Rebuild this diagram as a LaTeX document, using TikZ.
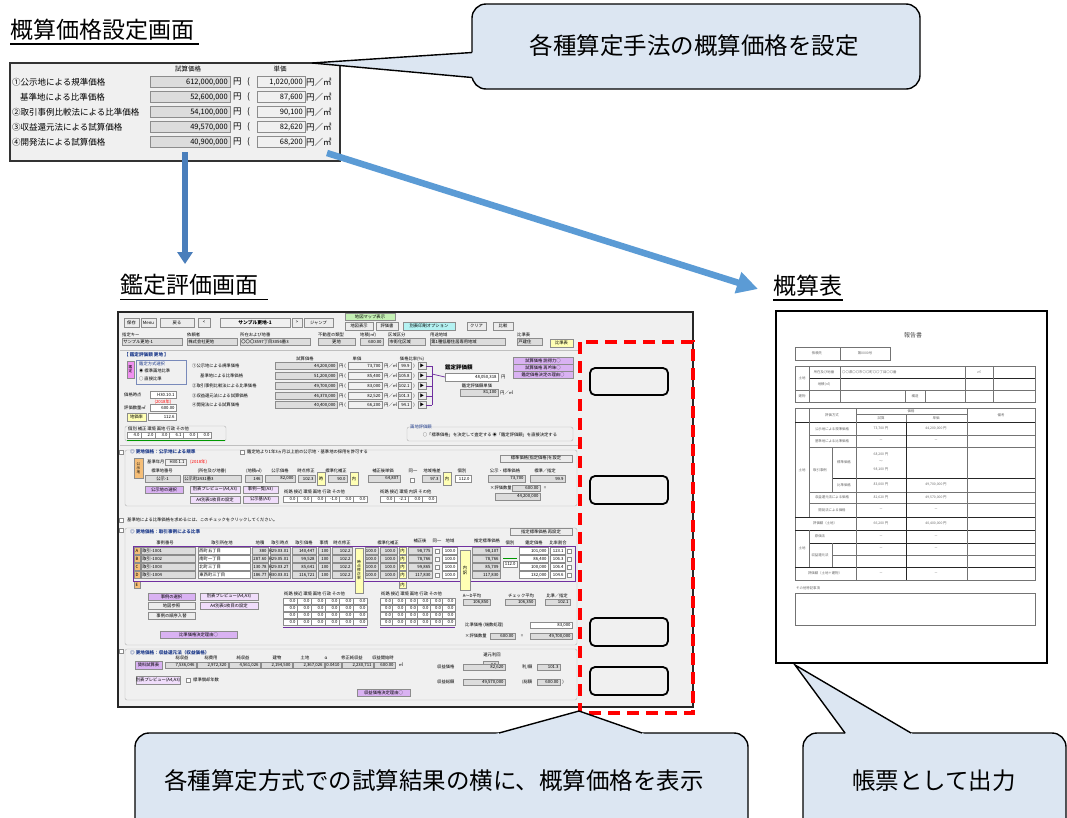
\documentclass[tikz,border=0pt]{standalone}
\usepackage{fontspec}
\setmainfont{Noto Sans CJK JP}
\usetikzlibrary{arrows.meta}
\definecolor{cbl}{HTML}{DCE6F2}
\definecolor{ardark}{HTML}{4A7EBB}
\definecolor{arlight}{HTML}{5B9BD5}
\definecolor{scr}{HTML}{F0F0F0}
\definecolor{fgr}{HTML}{DCDCDC}
\definecolor{fbd}{HTML}{8C8C8C}
\definecolor{btn}{HTML}{ECECEC}
\definecolor{pur}{HTML}{D9B2F2}
\definecolor{lpur}{HTML}{F0DDFB}
\definecolor{cyn}{HTML}{B4F2F2}
\definecolor{grn}{HTML}{C4F0B4}
\definecolor{yel}{HTML}{FFFFB4}
\definecolor{org}{HTML}{F5BE78}
\definecolor{pnk}{HTML}{F090F0}
\definecolor{brk}{HTML}{7030A0}
\definecolor{navy}{HTML}{1F3C8C}
\newcounter{tn}
\newcommand\tx[3][]{\stepcounter{tn}\node[tinyt,#1,name=tx\arabic{tn}] at (#2) {#3};}
\newcommand\fd[5][fgr]{\draw[fill=#1,draw=fbd,line width=0.35pt] ({#2},{#3}) rectangle ({#4},{#5});}
\newcommand\bt[6][btn]{\draw[fill=#1,draw=fbd,line width=0.35pt] ({#2},{#3}) rectangle ({#4},{#5});\tx{{(#2+#4)/2},{(#3+#5)/2}}{#6}}
\newcommand\nf[6][fgr]{\draw[fill=#1,draw=fbd,line width=0.35pt] ({#2},{#3}) rectangle ({#4},{#5});\tx[anchor=east]{{#4-1.2},{(#3+#5)/2}}{#6}}
\newcommand\lf[6][fgr]{\draw[fill=#1,draw=fbd,line width=0.35pt] ({#2},{#3}) rectangle ({#4},{#5});\tx[anchor=west]{{#2+1.2},{(#3+#5)/2}}{#6}}
\begin{document}
\begin{tikzpicture}[x=1pt,y=-1pt,
  tinyt/.style={font=\fontsize{4.3}{5}\selectfont,inner sep=0pt},
  rtxt/.style={font=\fontsize{3.4}{4}\selectfont,inner sep=0pt,text=black!60},
  ttl/.style={font=\fontsize{23}{23}\selectfont,inner sep=0pt,anchor=base west},
  uline/.style={line width=1.5pt},
  callout/.style={fill=cbl,draw=black,line width=1.4pt,rounded corners=14pt},
  ptr/.style={draw=black,line width=1.4pt,line join=miter},
  ctext/.style={font=\fontsize{23.5}{24}\selectfont,inner sep=0pt},
  plab/.style={font=\fontsize{8.5}{9}\selectfont,inner sep=0pt,anchor=west},
  pnum/.style={font=\fontsize{7.5}{8}\selectfont,inner sep=0pt,anchor=east},
  pfield/.style={fill=fgr,draw=fbd,line width=0.5pt},
  pfield2/.style={fill=scr,draw=fbd,line width=0.5pt},
  frm/.style={draw=black!30,line width=0.4pt,rounded corners=2pt},
  rl/.style={draw=black!55,line width=0.45pt},
  rk/.style={draw=black!85,line width=0.8pt},
  bluearrow/.style={line width=6pt,color=ardark,-{Triangle[length=12pt,width=15pt]}},
  diagarrow/.style={line width=6.5pt,color=arlight,-{Triangle[length=21pt,width=21pt]}},
  reddash/.style={draw=red,line width=3.6pt,dash pattern=on 12pt off 7pt},
  slot/.style={draw=black,line width=1.8pt,rounded corners=5pt}
]
\clip (0,0) rectangle (1067,817);
\useasboundingbox (0,0) rectangle (1067,817);
\fill[white] (0,0) rectangle (1067,817);

% ---------- titles ----------
\node[ttl,name=title1] at (10,38) {概算価格設定画面};
\draw[uline] (10,44) -- (199,44);
\node[ttl,name=title2] at (120,293) {鑑定評価画面};
\draw[uline] (120,299.5) -- (268,299.5);
\node[ttl,name=title3] at (773,294) {概算表};
\draw[uline] (773,300) -- (843,300);

% ---------- setting panel ----------
\draw[fill=scr,draw=black!80,line width=1.1pt] (10,63) rectangle (340,161);
\node[font=\fontsize{6.5}{7}\selectfont,inner sep=0pt,name=ph1] at (188,69) {試算価格};
\node[font=\fontsize{6.5}{7}\selectfont,inner sep=0pt,name=ph2] at (280,69) {単価};
\foreach \y/\lx/\lab/\va/\vb [count=\i] in {
  82/12/①公示地による規準価格/{612,000,000}/{1,020,000},
  97/20/基準地による比準価格/{52,600,000}/{87,600},
  112/12/②取引事例比較法による比準価格/{54,100,000}/{90,100},
  127/12/③収益還元法による試算価格/{49,570,000}/{82,620},
  142/12/④開発法による試算価格/{40,900,000}/{68,200}}{
  \node[plab,name=pl\i] at (\lx,\y) {\lab};
  \draw[pfield] (150,\y-5.5) rectangle (230,\y+5.5);
  \node[pnum,name=pa\i] at (228,\y) {\va};
  \node[plab,name=pu\i] at (233,\y) {円};
  \node[plab,name=pp\i] at (247,\y) {(};
  \draw[pfield2] (257,\y-5.5) rectangle (305,\y+5.5);
  \node[pnum,name=pb\i] at (303,\y) {\vb};
  \node[plab,name=pm\i] at (306,\y) {円／㎡};
}

% ---------- top callout ----------
\draw[callout] (472,4) rectangle (920,89);
\coordinate (c1tip) at (312,63);
\fill[cbl] (c1tip) -- (474,52.3) -- (474,77.7) -- cycle;
\draw[ptr] (472,52.5) -- (c1tip) -- (472,77.5);
\node[ctext,name=c1text] at (694,46) {各種算定手法の概算価格を設定};

% ---------- appraisal screen ----------
\draw[fill=scr,draw=black!85,line width=1.5pt] (118,312) rectangle (693,707);
% toolbar
\bt{124}{318}{139}{327}{保存}
\bt{141}{318}{156}{327}{Menu}
\bt{160}{318}{194}{327}{戻る}
\bt{198}{318}{210}{327}{<}
\draw[fill=scr,draw=fbd,line width=0.35pt] (220,318) rectangle (290,327);
\tx[font=\fontsize{4.8}{5}\selectfont\bfseries]{255,322.5}{サンプル更地-1}
\bt{292}{318}{302}{327}{>}
\bt{304}{318}{333}{327}{ジャンプ}
\bt[grn]{345}{313}{395}{320}{地図マップ表示}
\bt{345}{322}{373}{330}{地図表示}
\bt{376}{322}{398}{330}{評価書}
\bt[cyn]{403}{322}{455}{330}{別表印刷オプション}
\bt{467}{322}{486}{330}{クリア}
\bt{493}{322}{513}{330}{比較}
% info row
\tx[anchor=west]{122,335}{指定キー}
\tx[anchor=west]{187,335}{依頼者}
\tx[anchor=west]{240,335}{所在および地番}
\tx[anchor=west]{318,335}{不動産の類型}
\tx[anchor=west]{360,335}{地積(㎡)}
\tx[anchor=west]{388,335}{区域区分}
\tx[anchor=west]{430,335}{用途地域}
\tx[anchor=west]{517,335}{比準表}
\lf{122}{338}{182}{345}{サンプル更地-1}
\lf{187}{338}{237}{345}{株式会社更地}
\lf{240}{338}{310}{345}{〇〇〇3597丁目3056番3}
\bt[fgr]{318}{338}{355}{345}{更地}
\nf{360}{338}{383}{345}{600.00}
\lf{388}{338}{425}{345}{市街化区域}
\lf{430}{338}{505}{345}{第1種低層住居専用地域}
\lf{517}{338}{542}{345}{戸建住}
\bt[yel]{550}{339}{573}{347}{比準表}
\draw[black!25,line width=0.4pt] (120,350) -- (578,350);
% section A
\tx[anchor=west,text=navy,font=\fontsize{4.6}{5}\selectfont\bfseries]{124,355}{【 鑑定評価額 更地 】}
\draw[fill=pnk,draw=fbd,line width=0.35pt] (127,361) rectangle (134,378);
\tx[align=center,font=\fontsize{3.6}{4}\selectfont]{130.5,369.5}{鑑\\定}
\draw[fill=scr,draw=navy!60,line width=0.5pt] (136,360) rectangle (186,384);
\tx[anchor=west,text=navy]{139,364}{鑑定方式選択}
\tx[anchor=west]{139,371}{◉ 標準画地比準}
\tx[anchor=west]{139,379}{○ 直接比準}
\tx{305,359}{試算価格}
\tx{357,359}{単価}
\tx{412,359}{価格比率(\%)}
\foreach \y/\lx/\lab/\va/\vb/\vc [count=\i] in {
  366/192/①公示地による規準価格/{44,200,000}/{73,700}/99.9,
  376/200/基準地による比準価格/{51,200,000}/{85,400}/105.8,
  386/192/②取引事例比較法による比準価格/{49,700,000}/{83,000}/102.1,
  396/192/③収益還元法による試算価格/{46,370,000}/{82,520}/101.3,
  405/192/④開発法による試算価格/{40,400,000}/{66,200}/94.1}{
  \tx[anchor=west]{\lx,\y}{\lab}
  \nf{275}{\y-3.5}{337}{\y+3.5}{\va}
  \tx[anchor=west]{339,\y}{円 (}
  \nf[scr]{348}{\y-3.5}{382}{\y+3.5}{\vb}
  \tx[anchor=west]{384,\y}{円／㎡}
  \nf[scr]{398}{\y-3.5}{411}{\y+3.5}{\vc}
  \tx{414,\y}{)}
  \bt{418}{\y-3.5}{426}{\y+3.5}{▶}
  \draw[brk,line width=0.7pt] (426,\y) -- (432,\y);
}
\draw[brk,line width=0.7pt] (432,366) -- (432,405);
\draw[brk,line width=0.7pt] (432,374) -- (445,377);
\tx[anchor=west,font=\fontsize{5.5}{6}\selectfont\bfseries]{445,367}{鑑定評価額}
\nf[white]{445}{373}{498}{381}{48,050,318}
\tx[anchor=west]{501,377}{円}
\tx{477,386}{鑑定評価額単価}
\nf{460}{389}{498}{396}{81,100}
\tx[anchor=west]{500,392.5}{円／㎡}
\bt[pur]{513}{357}{573}{364}{試算価格 説得力○}
\bt[pur]{513}{364}{573}{371}{試算価格 再吟味○}
\bt[pur]{513}{371}{573}{378}{鑑定価格決定の理由○}
\tx[anchor=west]{124,394.5}{価格時点}
\nf[white]{150}{391}{176}{398}{H30.10.1}
\tx[text=red]{163,402}{(2018年)}
\tx[anchor=west]{124,407.5}{評価数量㎡}
\nf[white]{150}{404}{176}{411}{600.00}
\bt[yel]{127}{413}{146}{421}{地価率}
\nf[white]{148}{413}{176}{420}{112.6}
\draw[frm] (125,426) rectangle (226,441);
\tx[anchor=west]{128,429}{個別\ 補正\ 環境\ 画地\ 行政\ その他}
\foreach \v [count=\k] in {4.0,2.0,3.0,6.1,0.0,0.0}{
  \nf[white]{127+(\k-1)*14}{432}{127+\k*14}{438.5}{\v}
}
\draw[green!60!black,line width=0.6pt] (127,440) -- (225,440);
\draw[frm] (407,427) rectangle (573,441);
\tx[anchor=west,text=navy]{410,427}{画地評価額}
\tx{490,434.5}{○「標準価格」を決定して査定する\ ◉「鑑定評価額」を直接決定する}
\draw[black!25,line width=0.4pt] (120,445) -- (578,445);
% section B
\draw[frm] (125,450) rectangle (577,506);
\fd[white]{119}{450}{123}{454}
\tx[anchor=west,text=navy,font=\fontsize{4.6}{5}\selectfont\bfseries]{130,452}{◎ 更地価格：公示地による規準}
\fd[white]{240}{450}{244}{454}
\tx[anchor=west]{247,452}{鑑定地より1年3ヵ月以上前の公示地・基準地の採用を許可する}
\bt{500}{455}{572}{462}{標準価格(指定価格)を設定}
\draw[fill=org,draw=fbd,line width=0.35pt] (134,458) rectangle (143,478);
\tx[align=center,font=\fontsize{3.6}{4}\selectfont]{138.5,468}{公\\示\\地}
\tx[anchor=west]{147,462}{基準年月}
\nf[scr]{165}{459}{186}{465}{H30.1.1}
\tx[anchor=west,text=red]{190,462}{(2018年)}
\tx{162,471}{標準地番号}
\tx{212,471}{(所在及び地番)}
\tx{254,471}{(地積㎡)}
\tx{280,471}{公示価格}
\tx{306,471}{時点修正}
\tx{336,471}{標準化補正}
\tx{383,471}{補正後単価}
\tx{413,471}{同一}
\tx{432,471}{地域格差}
\tx{462,471}{個別}
\tx{505,471}{公示・標準価格}
\tx{545,471}{標準／指定}
\bt[fgr]{145}{475}{180}{482}{公示-1}
\lf{183}{475}{241}{482}{公示町2431番3}
\nf{245}{475}{262}{482}{146}
\nf{265}{475}{295}{482}{82,000}
\nf{298}{475}{315}{482}{102.3}
\bt[yel]{317}{472}{325}{485}{時}
\nf{328}{475}{347}{482}{90.0}
\bt[yel]{350}{472}{358}{485}{内}
\nf{368}{475}{400}{482}{64,807}
\fd[white]{410}{478}{414}{482}
\nf{422}{475}{440}{482}{97.3}
\bt[yel]{443}{472}{451}{485}{内}
\nf[white]{455}{475}{471}{482}{112.0}
\nf{488}{475}{525}{482}{73,700}
\nf{530}{475}{565}{482}{99.9}
\tx[anchor=west]{490,488}{×評価数量}
\nf{512}{485}{540}{491}{600.00}
\tx{545,488}{=}
\nf{495}{493}{540}{500}{44,200,000}
\bt[pur]{145}{486}{183}{493}{公示地の選択}
\bt[lpur]{190}{486}{240}{493}{別表プレビュー(A4,A3)}
\bt[lpur]{243}{486}{278}{493}{事例一覧(A3)}
\bt[lpur]{190}{496}{240}{503}{A4別表1枚目の設定}
\bt[lpur]{243}{496}{278}{503}{公示基(A3)}
\tx[anchor=west]{284,492}{街路\ 接近\ 環境\ 画地\ 行政\ その他}
\foreach \v [count=\k] in {0.0,0.0,0.0,-1.0,0.0,0.0}{
  \nf[white]{283+(\k-1)*14}{496}{283+\k*14}{502}{\v}
}
\tx[anchor=west]{380,492}{街路\ 接近\ 環境\ 内訳\ その他}
\foreach \v [count=\k] in {0.0,-2.1,0.0,0.0}{
  \nf[white]{380+(\k-1)*14}{496}{380+\k*14}{502}{\v}
}
\fd[white]{119}{518}{123}{522}
\tx[anchor=west]{127,520}{基準地による比準価格を求めるには、このチェックをクリックしてください。}
% section C
\draw[frm] (125,528) rectangle (577,645);
\fd[white]{119}{528}{123}{532}
\tx[anchor=west,text=navy,font=\fontsize{4.6}{5}\selectfont\bfseries]{130,532}{◎ 更地価格：取引事例による比準}
\bt{510}{528}{572}{535}{指定標準価格 再設定}
\tx{165,543}{事例番号}
\tx{222,543}{取引所在地}
\tx{260,543}{地積}
\tx{280,543}{取引時点}
\tx{304,543}{取引価格}
\tx{324,543}{事情}
\tx{342,543}{時点修正}
\tx{388,543}{標準化補正}
\tx{420,541}{補正後}
\tx{437,541}{同一}
\tx{450,541}{地域}
\tx{487,541}{推定標準価格}
\tx{510,543}{個別}
\tx{534,543}{鑑定価格}
\tx{558,543}{比率割合}
\foreach \y/\L/\id/\loc/\ar/\dt/\pr/\va/\vb/\vc/\vd in {
  551/A/取引-1001/西町五丁目/380/H29.03.01/{140,447}/{98,775}/{98,107}/{101,000}/123.1,
  559/B/取引-1002/南町一丁目/287.60/H29.05.01/{99,528}/{78,766}/{78,766}/{86,400}/106.3,
  567/C/取引-1003/北町三丁目/130.78/H29.03.27/{85,641}/{99,865}/{85,709}/{100,000}/106.4,
  575/D/取引-1004/東西町三丁目/186.77/H30.03.01/{116,721}/{117,830}/{117,830}/{132,000}/104.6}{
  \bt[org]{134}{\y-3.5}{140}{\y+3.5}{\L}
  \lf{141}{\y-3.5}{195}{\y+3.5}{\id}
  \lf[white]{198}{\y-3.5}{250}{\y+3.5}{\loc}
  \nf{252}{\y-3.5}{268}{\y+3.5}{\ar}
  \nf{270}{\y-3.5}{290}{\y+3.5}{\dt}
  \nf{292}{\y-3.5}{316}{\y+3.5}{\pr}
  \nf{318}{\y-3.5}{330}{\y+3.5}{100}
  \nf{332}{\y-3.5}{352}{\y+3.5}{102.2}
  \nf{365}{\y-3.5}{378}{\y+3.5}{100.0}
  \nf{380}{\y-3.5}{397}{\y+3.5}{100.0}
  \bt[yel]{399}{\y-3.5}{406}{\y+3.5}{内}
  \nf{408}{\y-3.5}{432}{\y+3.5}{\va}
  \fd[white]{435}{\y-2}{439}{\y+2}
  \nf[white]{442}{\y-3.5}{457}{\y+3.5}{100.0}
  \nf{472}{\y-3.5}{500}{\y+3.5}{\vb}
  \nf[white]{519}{\y-3.5}{548}{\y+3.5}{\vc}
  \nf[white]{550}{\y-3.5}{565}{\y+3.5}{\vd}
  \fd[white]{567}{\y-2}{571}{\y+2}
}
\bt[org]{134}{581.5}{140}{588.5}{E}
\bt[yel]{399}{581.5}{406}{588.5}{内}
\draw[brk,line width=0.8pt] (133,546) rectangle (575,581);
\fd[yel]{355}{548}{363}{593}
\tx[align=center,font=\fontsize{3.8}{4.2}\selectfont]{359,570}{時\\点\\修\\正\\率}
\fd[yel]{460}{550}{470}{590}
\tx[align=center]{465,570}{内\\訳}
\nf[white]{503}{561}{517}{567}{112.0}
\draw[green!60!black,line width=0.6pt] (503,558) -- (517,558);
\bt[pur]{148}{593}{195}{600}{事例の選択}
\bt{148}{602}{195}{609}{地図参照}
\bt{148}{612}{195}{619}{事例の順序入替}
\bt[lpur]{200}{593}{258}{600}{別表プレビュー(A4,A3)}
\bt[lpur]{200}{602}{258}{609}{A4別表1枚目の設定}
\tx[anchor=west]{284,594}{街路\ 接近\ 環境\ 画地\ 行政\ その他}
\tx[anchor=west]{381,594}{街路\ 接近\ 環境\ 画地\ 行政\ その他}
\foreach \r in {0,1,2,3}{
  \foreach \k in {1,...,6}{
    \nf[white]{283+(\k-1)*14}{598+\r*7}{283+\k*14}{604+\r*7}{0.0}
    \nf[white]{380+(\k-1)*12.5}{598+\r*7}{380+\k*12.5}{604+\r*7}{0.0}
  }
}
\draw[brk,line width=0.7pt] (283,627) -- (367,627);
\draw[brk,line width=0.7pt] (380,627) -- (455,627);
\bt[pur]{160}{631}{237}{638}{比準価格決定理由○}
\tx{472,596}{A〜D平均}
\nf{463}{599}{490}{605}{106,850}
\tx{521,596}{チェック平均}
\nf{505}{599}{535}{605}{106,350}
\tx{557,596}{比準／指定}
\nf{545}{599}{570}{605}{102.1}
\tx[anchor=west]{465,625}{比準価格\ (端数処理)}
\nf[white]{530}{622}{572}{628}{83,000}
\tx[anchor=west]{465,636}{×評価数量}
\nf{490}{633}{515}{639}{600.00}
\tx{522,636}{=}
\nf{530}{633}{572}{639}{49,700,000}
% section D
\draw[frm] (125,649) rectangle (577,700);
\fd[white]{119}{649}{123}{653}
\tx[anchor=west,text=navy,font=\fontsize{4.6}{5}\selectfont\bfseries]{130,653}{◎ 更地価格：収益還元法（収益価格）}
\bt[pur]{135}{661}{162}{669}{賃料試算表}
\tx{182,658}{総収益}
\tx{211,658}{総費用}
\tx{243,658}{純収益}
\tx{277,658}{建物}
\tx{305,658}{土地}
\tx{326,658}{α}
\tx{352,658}{修正純収益}
\tx{383,658}{収益開始時}
\tx{492,655}{還元利回}
\nf{165}{662}{196}{668}{7,536,046}
\nf{197}{662}{228}{668}{2,972,320}
\nf{229}{662}{260}{668}{4,561,026}
\nf{261}{662}{292}{668}{2,194,500}
\nf{293}{662}{324}{668}{2,367,026}
\nf{325}{662}{341}{668}{0.0410}
\nf{342}{662}{373}{668}{2,230,711}
\nf{374}{662}{395}{668}{600.00}
\tx{401,665}{㎡}
\nf{483}{661}{498}{668}{4.5}
\bt[lpur]{136}{676}{180}{684}{別表プレビュー(A4,A3)}
\fd[white]{186}{678}{190}{682}
\tx[anchor=west]{193,680}{標準償却年数}
\tx[anchor=west]{437,667}{収益価格}
\nf{463}{664}{505}{670}{82,620}
\tx[anchor=west]{522,667}{利/額}
\nf{537}{664}{560}{670}{101.3}
\tx[anchor=west]{437,682}{収益総額}
\nf{463}{679}{505}{685}{49,570,000}
\tx[anchor=west]{522,682}{(総額}
\nf{537}{679}{560}{685}{600.00}
\tx{563,682}{)}
\bt[pur]{357}{689}{410}{696}{収益価格決定理由○}

% ---------- red area ----------
\draw[reddash] (580,342) rectangle (693,713);
\draw[slot] (590,368) rectangle (668,395);
\draw[slot] (590,476) rectangle (668,504);
\draw[slot] (590,618) rectangle (668,646);
\draw[slot] (590,667) rectangle (668,695);

% ---------- report ----------
\draw[fill=white,draw=black,line width=1.5pt] (776,311) rectangle (1047,663);
\node[font=\fontsize{6}{6}\selectfont,inner sep=0pt,text=black!70,name=rtitle] at (913,335) {報告書};
\draw[rl] (795,347) rectangle (890,360);
\draw[rl] (840,347) -- (840,360);
\node[rtxt,name=r1] at (817,353.5) {依頼先};
\node[rtxt,name=r2] at (865,353.5) {第0000号};
\draw[rl] (795,366) rectangle (1035,402);
\draw[rk] (809,378) -- (1035,378);
\draw[rl] (795,390) -- (1035,390);
\foreach \x in {809,840,965,993}{\draw[rl] (\x,366) -- (\x,402);}
\draw[rl] (905,390) -- (905,402);
\draw[rl] (925,390) -- (925,402);
\node[rtxt,name=r3] at (802,378) {土地};
\node[rtxt,name=r4] at (824,372) {所在及び地番};
\node[rtxt,anchor=west,name=r5] at (842,372) {〇〇県〇〇市〇〇町〇〇丁目〇〇番};
\node[rtxt,name=r6] at (824,384) {地積(㎡)};
\node[rtxt,name=r7] at (979,372) {㎡};
\node[rtxt,name=r8] at (802,396) {建物};
\node[rtxt,name=r9] at (915,396) {構造};
\draw[rl] (795,408) rectangle (1035,580);
\draw[rl] (856,414) -- (967,414);
\draw[rl] (906,414) -- (906,422);
\node[rtxt,name=r10] at (911,411) {価格};
\node[rtxt,name=r11] at (881,418) {試算};
\node[rtxt,name=r12] at (936,418) {単価};
\node[rtxt,name=r13] at (1001,415) {備考};
\node[rtxt,name=r14] at (832,415) {評価方式};
\draw[rk] (795,422) -- (1035,422);
\foreach \yy/\xa in {435/809,447/809,492/809,503/809,555/832}{\draw[rl] (\xa,\yy) -- (1035,\yy);}
\draw[rk] (832,478) -- (1035,478);
\draw[rk] (795,517) -- (1035,517);
\draw[rk] (795,530) -- (1035,530);
\draw[rk] (809,543) -- (1035,543);
\draw[rk] (795,567) -- (1035,567);
\draw[rl] (809,408) -- (809,422);
\draw[rl] (809,422) -- (809,517);
\draw[rl] (809,530) -- (809,567);
\draw[rl] (832,447) -- (832,492);
\draw[rl] (832,543) -- (832,567);
\draw[rl] (856,408) -- (856,580);
\draw[rk] (906,422) -- (906,580);
\draw[rl] (967,408) -- (967,580);
\node[rtxt,name=r15] at (802,470) {土地};
\node[rtxt,name=r16] at (832,429) {公示地による規準価格};
\node[rtxt,name=r17] at (832,441) {基準地による比準価格};
\node[rtxt,name=r18] at (820,470) {取引事例};
\node[rtxt,name=r19] at (844,462) {標準価格};
\node[rtxt,name=r20] at (844,485) {比準価格};
\node[rtxt,name=r21] at (832,497.5) {収益還元法による価格};
\node[rtxt,name=r22] at (832,510) {開発法による価格};
\node[rtxt,name=r23] at (825,523.5) {評価額（土地）};
\node[rtxt,name=r24] at (802,548) {土地};
\node[rtxt,name=r25] at (820,536.5) {原価法};
\node[rtxt,name=r26] at (820,555) {収益還元法};
\node[rtxt,name=r27] at (825,573.5) {評価額（土地＋建物）};
\foreach \yy/\va/\vb [count=\j] in {429/{73,700 円}/{44,200,000 円},441/－/－,485/{83,000 円}/{49,700,000 円},497.5/{82,620 円}/{49,570,000 円},510/－/－,523.5/{66,200 円}/{40,400,000 円},536.5/－/－,549/－/－,573.5/－/－}{
  \node[rtxt,name=ra\j] at (881,\yy) {\va};
  \node[rtxt,name=rb\j] at (936,\yy) {\vb};
}
\node[rtxt,name=r29] at (881,455) {68,200 円};
\node[rtxt,name=r30] at (881,462) {〜};
\node[rtxt,name=r31] at (881,470) {98,100 円};
\node[rtxt,anchor=west,name=r28] at (796,588) {その他特記事項};
\draw[rl] (795,593) rectangle (1035,625);

% ---------- arrows ----------
\coordinate (dn1) at (185,152);
\coordinate (dn2) at (185,264);
\draw[bluearrow] (dn1) -- (dn2);
\coordinate (dg1) at (327,153);
\coordinate (dg2) at (758,289);
\draw[diagarrow] (dg1) -- (dg2);

% ---------- bottom callouts ----------
\draw[callout] (135,733) rectangle (748,835);
\coordinate (c2tip) at (579,711);
\fill[cbl] (c2tip) -- (490,735.5) -- (649,735.5) -- cycle;
\draw[ptr] (499,733) -- (c2tip) -- (642,733);
\node[ctext,name=c2text] at (434,781) {各種算定方式での試算結果の横に、概算価格を表示};

\draw[callout] (803,733) rectangle (1066,835);
\coordinate (c3tip) at (795,665);
\fill[cbl] (c3tip) -- (846.8,735.5) -- (915.3,735.5) -- cycle;
\draw[ptr] (845,733) -- (c3tip) -- (911,733);
\node[ctext,name=c3text] at (934,781) {帳票として出力};
\end{tikzpicture}
\end{document}
